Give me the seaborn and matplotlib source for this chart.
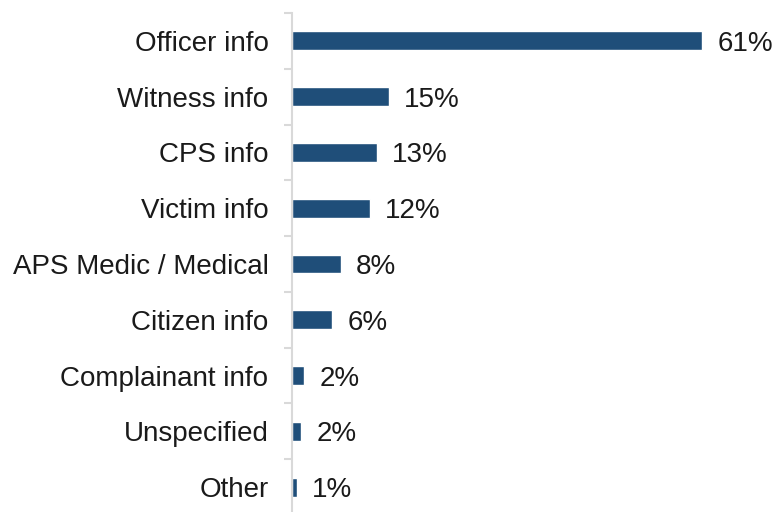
import matplotlib
matplotlib.use("Agg")
import matplotlib.pyplot as plt
import seaborn as sns
import pandas as pd
import numpy as np

categories = ["Officer info", "Witness info", "CPS info", "Victim info",
              "APS Medic / Medical", "Citizen info", "Complainant info",
              "Unspecified", "Other"]
values = [61.5, 14.5, 12.7, 11.7, 7.3, 6.0, 1.8, 1.35, 0.7]
value_labels = ["61%", "15%", "13%", "12%", "8%", "6%", "2%", "2%", "1%"]

sns.set_theme(style="white")
plt.rcParams['font.family'] = ['Liberation Sans', 'DejaVu Sans']

df = pd.DataFrame({"category": categories, "value": values})
text_color = "#1a1a1a"

fig = plt.figure(figsize=(7.75, 5.12), dpi=100)
ax = fig.add_axes([292 / 775, -3 / 512, 483 / 775, 502 / 512])

sns.barplot(data=df, y="category", x="value", orient="h", color="#1F4E79",
            saturation=1, width=0.34, ax=ax)

ax.set_xlim(0, 483 / 6.67)
ax.set_ylim(8.5, -0.5)
ax.set_xlabel("")
ax.set_ylabel("")

for sp in ["top", "right", "bottom"]:
    ax.spines[sp].set_visible(False)
ax.spines["left"].set_color("#d9d9d9")
ax.spines["left"].set_linewidth(1.5)

ax.set_xticks([])
ax.set_yticks(np.arange(-0.5, len(categories), 1.0))
ax.set_yticklabels([])
ax.tick_params(axis="y", which="major", length=6, width=1.5, color="#d9d9d9", left=True)
ax.set_yticks(np.arange(len(categories)), minor=True)
ax.set_yticklabels(categories, minor=True, fontsize=20, color=text_color)
ax.tick_params(axis="y", which="minor", length=0, pad=17)

for patch, lab in zip(ax.patches, value_labels):
    ax.annotate(lab, xy=(patch.get_x() + patch.get_width(), patch.get_y() + patch.get_height() / 2),
                xytext=(11, 0), textcoords="offset points", va="center_baseline", ha="left",
                fontsize=20, color=text_color)

fig.savefig("out.png", dpi=100)
